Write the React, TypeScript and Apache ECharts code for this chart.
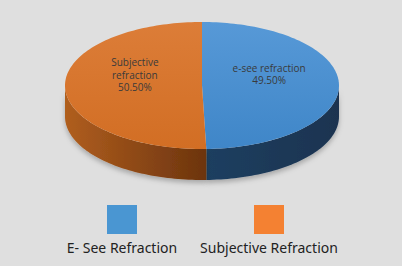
import React, { useEffect, useRef } from "react";
import * as echarts from "echarts";

const categories = ["e-see refraction", "Subjective refraction"];
const legendLabels = ["E- See Refraction", "Subjective Refraction"];
const values = [49.5, 50.5];
const percentLabels = ["49.50%", "50.50%"];
const sliceLabelLines = [["e-see refraction"], ["Subjective", "refraction"]];

const topColors = [
  ["#5799d7", "#3f86c8"],
  ["#dc7d38", "#d26e24"],
];
const sideColors = [
  ["#1f3f60", "#1a3350"],
  ["#b05e1e", "#6c340e"],
];
const legendColors = ["#4a96d2", "#f48132"];

const CX = 202;
const CY = 85.5;
const RX = 137;
const RY = 63.5;
const DEPTH = 31;

function pt(theta: number, dy = 0): number[] {
  return [CX + RX * Math.sin(theta), CY - RY * Math.cos(theta) + dy];
}

function arcPoints(a0: number, a1: number, dy = 0): number[][] {
  const n = Math.max(4, Math.ceil(((a1 - a0) / (Math.PI * 2)) * 240));
  const pts: number[][] = [];
  for (let k = 0; k <= n; k++) {
    pts.push(pt(a0 + ((a1 - a0) * k) / n, dy));
  }
  return pts;
}

function renderItem(params: any, api: any) {
  const i = params.dataIndex;
  const total = values.reduce((s, v) => s + v, 0);
  let before = 0;
  for (let k = 0; k < i; k++) before += values[k];
  const a0 = (before / total) * Math.PI * 2;
  const a1 = a0 + (api.value(0) / total) * Math.PI * 2;
  const children: any[] = [];

  // side band (front half only)
  const s = Math.max(a0, Math.PI / 2);
  const e = Math.min(a1, (Math.PI * 3) / 2);
  if (e > s) {
    const top = arcPoints(s, e, 0);
    const bottom = arcPoints(s, e, DEPTH).reverse();
    children.push({
      type: "polygon",
      shape: { points: top.concat(bottom) },
      style: {
        fill: new echarts.graphic.LinearGradient(0, 0, 1, 0, [
          { offset: 0, color: sideColors[i][0] },
          { offset: 1, color: sideColors[i][1] },
        ]),
        shadowColor: "rgba(0,0,0,0.25)",
        shadowBlur: 5,
        shadowOffsetY: 3,
      },
    });
  }

  // top face
  const facePts = [[CX, CY]].concat(arcPoints(a0, a1, 0));
  children.push({
    type: "polygon",
    shape: { points: facePts },
    style: {
      fill: new echarts.graphic.LinearGradient(0, 0, 0, 1, [
        { offset: 0, color: topColors[i][0] },
        { offset: 1, color: topColors[i][1] },
      ]),
    },
  });

  // label
  const mid = (a0 + a1) / 2;
  const lp = [CX + RX * 0.49 * Math.sin(mid), CY - RY * 0.49 * Math.cos(mid) - 11];
  const lines = sliceLabelLines[i].concat([percentLabels[i]]);
  children.push({
    type: "text",
    x: lp[0],
    y: lp[1],
    style: {
      text: lines.join("\n"),
      fill: "#3a3a3a",
      font: '10px "Open Sans"',
      lineHeight: 12.5,
      align: "center",
      verticalAlign: "middle",
    },
  });

  return { type: "group", children };
}

export default function App() {
  const ref = useRef<HTMLDivElement>(null);
  useEffect(() => {
    if (!ref.current) return;
    const chart = echarts.init(ref.current, undefined, { renderer: "svg" });
    const legendX = [122, 269];
    const graphics: any[] = [];
    legendLabels.forEach((lab, i) => {
      graphics.push({
        type: "rect",
        shape: { x: legendX[i] - 15, y: 205, width: 30, height: 29 },
        style: { fill: legendColors[i] },
      });
      graphics.push({
        type: "text",
        x: legendX[i],
        y: 247,
        style: {
          text: lab,
          fill: "#222",
          font: '14px "Noto Sans"',
          align: "center",
          verticalAlign: "middle",
        },
      });
    });
    chart.setOption({
      animation: false,
      backgroundColor: "#dfdfdf",
      graphic: graphics,
      series: [
        {
          type: "custom",
          coordinateSystem: "none",
          renderItem,
          data: values.map((v, i) => ({ value: [v], name: categories[i] })),
        },
      ],
    });
    return () => chart.dispose();
  }, []);
  return (
    <div
      ref={ref}
      style={{ position: "fixed", left: 0, top: 0, width: 402, height: 266 }}
    />
  );
}
